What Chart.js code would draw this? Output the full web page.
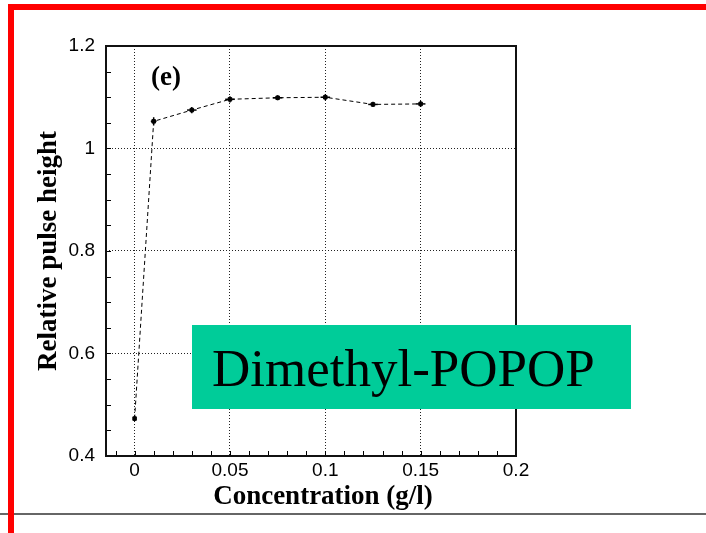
<!DOCTYPE html>
<html>
<head>
<meta charset="utf-8">
<script src="https://cdn.jsdelivr.net/npm/chart.js@4"></script>
<style>
  body { margin: 0; background: #fff; }
  #wrap { position: relative; width: 706px; height: 533px; overflow: hidden; }
  canvas { position: absolute; left: 0; top: 0; }
  .rule { position: absolute; left: 0; top: 513px; width: 706px; height: 2px; background: #666; }
  .red-top { position: absolute; left: 8px; top: 4px; width: 698px; height: 6px; background: #f00; }
  .red-left { position: absolute; left: 8px; top: 4px; width: 6px; height: 529px; background: #f00; }
</style>
</head>
<body>
<div id="wrap">
  <canvas id="chart" width="706" height="533"></canvas>
  <div class="rule"></div>
  <div class="red-top"></div>
  <div class="red-left"></div>
</div>
<script>
  // values
  const concentration = [0, 0.01, 0.03, 0.05, 0.075, 0.1, 0.125, 0.15];
  const pulseHeight   = [0.473, 1.053, 1.075, 1.096, 1.099, 1.100, 1.086, 1.087];
  const xErr = [0, 0.0015, 0.0025, 0.0025, 0.0025, 0.0025, 0.0025, 0.0025];
  const yErr = [0.005, 0.008, 0.006, 0.006, 0.005, 0.006, 0.005, 0.006];

  const xTicks = [0, 0.05, 0.1, 0.15, 0.2];
  const xTickLabels = ['0', '0.05', '0.1', '0.15', '0.2'];
  const yTicks = [0.4, 0.6, 0.8, 1, 1.2];
  const yTickLabels = ['0.4', '0.6', '0.8', '1', '1.2'];
  const xMinorStep = 0.01;
  const yMinorStep = 0.05;

  const tickFont = { family: '"Liberation Sans", Arial, sans-serif', size: 19 };
  const titleFont = { family: '"Liberation Serif", "Times New Roman", serif', size: 27, weight: 'bold' };

  // frame, inward tick marks, error bars and the slide overlay
  const extras = {
    id: 'extras',
    afterDatasetsDraw(chart) {
      const { ctx, scales: { x, y } } = chart;
      ctx.save();
      ctx.strokeStyle = '#000';
      ctx.lineWidth = 1.5;
      concentration.forEach((c, i) => {
        const px = x.getPixelForValue(c), py = y.getPixelForValue(pulseHeight[i]);
        if (xErr[i]) {
          ctx.beginPath();
          ctx.moveTo(x.getPixelForValue(c - xErr[i]), py);
          ctx.lineTo(x.getPixelForValue(c + xErr[i]), py);
          ctx.stroke();
        }
        ctx.beginPath();
        ctx.moveTo(px, y.getPixelForValue(pulseHeight[i] - yErr[i]));
        ctx.lineTo(px, y.getPixelForValue(pulseHeight[i] + yErr[i]));
        ctx.stroke();
      });
      ctx.restore();
    },
    afterDraw(chart) {
      const { ctx, chartArea: a, scales: { x, y } } = chart;
      ctx.save();
      // inward ticks
      ctx.strokeStyle = '#000';
      ctx.lineWidth = 1;
      ctx.beginPath();
      for (let v = Math.ceil(x.min / xMinorStep) * xMinorStep; v < x.max - 1e-9; v += xMinorStep) {
        const px = Math.round(x.getPixelForValue(v)) + 0.5;
        ctx.moveTo(px, a.bottom);
        ctx.lineTo(px, a.bottom - 5);
      }
      for (let v = y.min + yMinorStep; v < y.max - 1e-9; v += yMinorStep) {
        const py = Math.round(y.getPixelForValue(v)) + 0.5;
        ctx.moveTo(a.left, py);
        ctx.lineTo(a.left + 5, py);
      }
      ctx.stroke();
      // frame
      ctx.strokeStyle = '#111';
      ctx.lineWidth = 2;
      ctx.strokeRect(a.left, a.top, a.right - a.left, a.bottom - a.top);
      // axis title, set a little right of centre as in the original
      ctx.fillStyle = '#000';
      ctx.font = 'bold 27px "Liberation Serif", serif';
      ctx.textAlign = 'center';
      ctx.textBaseline = 'alphabetic';
      ctx.fillText('Concentration (g/l)', 323, 504);
      // panel tag
      ctx.textAlign = 'left';
      ctx.fillText('(e)', 151, 85);
      // slide label box
      ctx.fillStyle = '#00cc99';
      ctx.fillRect(192, 325, 439, 84);
      ctx.fillStyle = '#000';
      ctx.font = '53px "Liberation Serif", serif';
      ctx.fillText('Dimethyl-POPOP', 212, 386);
      ctx.restore();
    }
  };

  new Chart(document.getElementById('chart'), {
    type: 'line',
    data: {
      datasets: [{
        data: concentration.map((c, i) => ({ x: c, y: pulseHeight[i] })),
        borderColor: '#000',
        borderWidth: 1,
        borderDash: [4, 3],
        pointStyle: 'rect',
        pointRadius: 2.5,
        pointBackgroundColor: '#000',
        pointBorderColor: '#000',
        tension: 0,
        fill: false
      }]
    },
    options: {
      responsive: false,
      animation: false,
      layout: { padding: { top: 46, right: 190, left: 0, bottom: 0 } },
      plugins: { legend: { display: false }, tooltip: { enabled: false } },
      scales: {
        x: {
          type: 'linear',
          min: -0.015,
          max: 0.2,
          afterBuildTicks: s => { s.ticks = xTicks.map(v => ({ value: v })); },
          afterFit: s => { s.height = 77; },
          grid: { color: '#222', lineWidth: 1, drawTicks: false },
          border: { display: false, dash: [1, 2] },
          ticks: {
            padding: 3,
            color: '#000',
            font: tickFont,
            maxRotation: 0,
            autoSkip: false,
            callback: (v, i) => xTickLabels[i]
          }
        },
        y: {
          type: 'linear',
          min: 0.4,
          max: 1.2,
          afterBuildTicks: s => { s.ticks = yTicks.map(v => ({ value: v })); },
          afterFit: s => { s.width = 106; },
          grid: { color: '#222', lineWidth: 1, drawTicks: false },
          border: { display: false, dash: [1, 2] },
          ticks: {
            padding: 11,
            color: '#000',
            font: tickFont,
            autoSkip: false,
            callback: (v, i) => yTickLabels[i]
          },
          title: {
            display: true,
            text: 'Relative pulse height',
            color: '#000',
            font: titleFont,
            padding: { top: 33, bottom: 33 }
          }
        }
      }
    },
    plugins: [extras]
  });
</script>
</body>
</html>
